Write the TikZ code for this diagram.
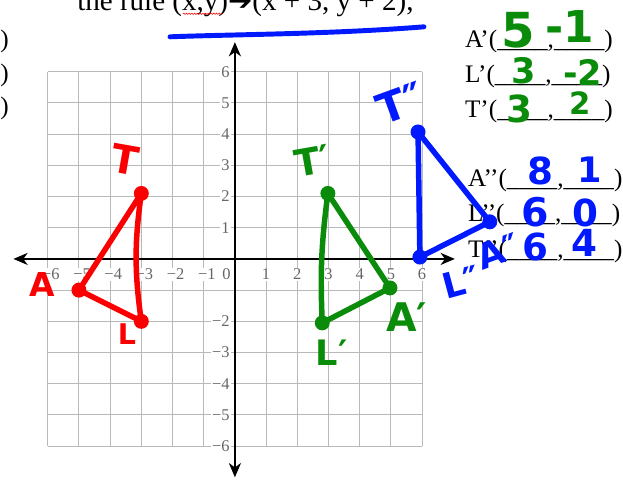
\documentclass[tikz,border=0pt]{standalone}
\usepackage{fontspec}
\setmainfont{Liberation Serif}
\newfontfamily\handfont{DejaVu Sans}
\usetikzlibrary{arrows.meta}
\usetikzlibrary{decorations.pathmorphing}

\definecolor{penred}{RGB}{250,0,0}
\definecolor{pengreen}{RGB}{10,140,10}
\definecolor{penblue}{RGB}{0,25,255}

\tikzset{
  gridline/.style={gray!55, line width=1pt},
  axis/.style={line width=1.6pt, {Stealth[length=13pt,width=11pt,inset=4pt]}-{Stealth[length=13pt,width=11pt,inset=4pt]}},
  ticklabel/.style={font=\fontsize{15}{15}\selectfont, text=black!60, fill=white, inner sep=1pt},
  sheet/.style={font=\fontsize{23}{23}\selectfont, anchor=base west, inner sep=0pt},
  hand/.style={font=\handfont\bfseries\fontsize{#1}{#1}\selectfont, inner sep=0pt},
  tri/.style={line width=5pt, line cap=round, line join=round}
}

\begin{document}
\begin{tikzpicture}
\fill[white] (-7.53,-7.08) rectangle (12.44,8.30);
\useasboundingbox (-7.53,-7.08) rectangle (12.44,8.30);
\draw[gridline] (-6,-6) grid (6,6);
\foreach \n in {1,...,6} {
  \node[ticklabel] (xm\n) at (-\n+0.1,-0.5) {−\n};
  \node[ticklabel] (xp\n) at (\n,-0.5) {\n};
  \node[ticklabel, anchor=east] (yp\n) at (-0.13,\n) {\n};
}
\foreach \n in {2,...,6} {
  \node[ticklabel, anchor=east] (ym\n) at (-0.13,-\n) {−\n};
}
\node[ticklabel, anchor=east] (zero) at (-0.1,-0.5) {0};
\draw[axis] (-7.1,0) -- (7.05,0);
\draw[axis] (0,-7.0) -- (0,6.95);

\node[sheet, font=\fontsize{26.5}{26.5}\selectfont] (rule) at (-5.06,7.95) {the rule (x,y){\handfont ➔}(x + 3, y + 2),};
\draw[penred, line width=0.5pt, decorate, decoration={snake, amplitude=0.6pt, segment length=2.5pt}] (-1.67,7.86) -- (-0.4,7.86);
\draw[penblue, line width=4.5pt, line cap=round] (-2.08,7.12) .. controls (0,7.2) and (3,7.2) .. (6.06,7.44);

\foreach \yy [count=\i] in {6.79,5.7,4.62} {
  \node[sheet, anchor=base east] (lp\i) at (-7.24,\yy) {)};
}
\node[sheet] (Ap) at (7.37,6.79) {A’(\_\_\_\_,\_\_\_\_)};
\node[sheet] (Lp) at (7.37,5.67) {L’(\_\_\_\_,\_\_\_\_)};
\node[sheet] (Tp) at (7.37,4.52) {T’(\_\_\_\_,\_\_\_\_)};
\node[sheet] (App) at (7.47,2.31) {A’’(\_\_\_\_,\_\_\_\_)};
\node[sheet] (Lpp) at (7.47,1.19) {L’’(\_\_\_\_,\_\_\_\_)};
\node[sheet] (Tpp) at (7.47,0.06) {T’’(\_\_\_\_,\_\_\_\_)};

\node[hand=44, pengreen] (apx) at (9.07,7.34) {5};
\node[hand=40, pengreen] (apy) at (10.74,7.44) {-1};
\node[hand=32, pengreen] (lpx) at (9.26,6.03) {3};
\node[hand=32, pengreen] (lpy) at (11.15,5.99) {-2};
\node[hand=34, pengreen] (tpx) at (9.13,4.81) {3};
\node[hand=28, pengreen] (tpy) at (11.06,5.0) {2};
\node[hand=34, penblue] (appx) at (9.78,2.82) {8};
\node[hand=32, penblue] (appy) at (11.38,2.85) {1};
\node[hand=36, penblue] (lppx) at (9.62,1.51) {6};
\node[hand=34, penblue] (lppy) at (11.25,1.47) {0};
\node[hand=34, penblue] (tppx) at (9.62,0.38) {6};
\node[hand=34, penblue] (tppy) at (11.22,0.51) {4};

\coordinate (A) at (-5,-1);
\coordinate (L) at (-3,-2);
\coordinate (T) at (-3,2.1);
\draw[tri, penred] (L) -- (A) -- (T) to[bend right=8] (L);
\foreach \p in {A,L,T} \fill[penred] (\p) circle (0.24);
\node[hand=36, penred, rotate=-10] (Tname) at (-3.53,3.17) {T};
\node[hand=30, penred] (Aname) at (-6.19,-0.83) {A};
\node[hand=26, penred] (Lname) at (-3.46,-2.4) {L};

\coordinate (A1) at (4.97,-0.93);
\coordinate (L1) at (2.8,-2.05);
\coordinate (T1) at (2.98,2.1);
\draw[tri, pengreen] (L1) -- (A1) -- (T1) to[bend right=5] (L1);
\foreach \p in {A1,L1,T1} \fill[pengreen] (\p) circle (0.24);
\node[hand=34, pengreen, rotate=10] (T1name) at (2.5,3.15) {T′};
\node[hand=32, pengreen] (L1name) at (3.1,-3.0) {L′};
\node[hand=36, pengreen] (A1name) at (5.5,-1.85) {A′};

\coordinate (A2) at (8.17,1.19);
\coordinate (L2) at (5.93,0.06);
\coordinate (T2) at (5.87,4.07);
\draw[tri, penblue] (L2) -- (A2) -- (T2) -- (L2);
\foreach \p in {A2,L2,T2} \fill[penblue] (\p) circle (0.24);
\node[hand=38, penblue, rotate=20] (T2name) at (5.3,5.0) {T″};
\node[hand=32, penblue, rotate=15] (L2name) at (7.25,-0.75) {L″};
\node[hand=32, penblue, rotate=20] (A2name) at (8.45,0.25) {A″};
\end{tikzpicture}
\end{document}
